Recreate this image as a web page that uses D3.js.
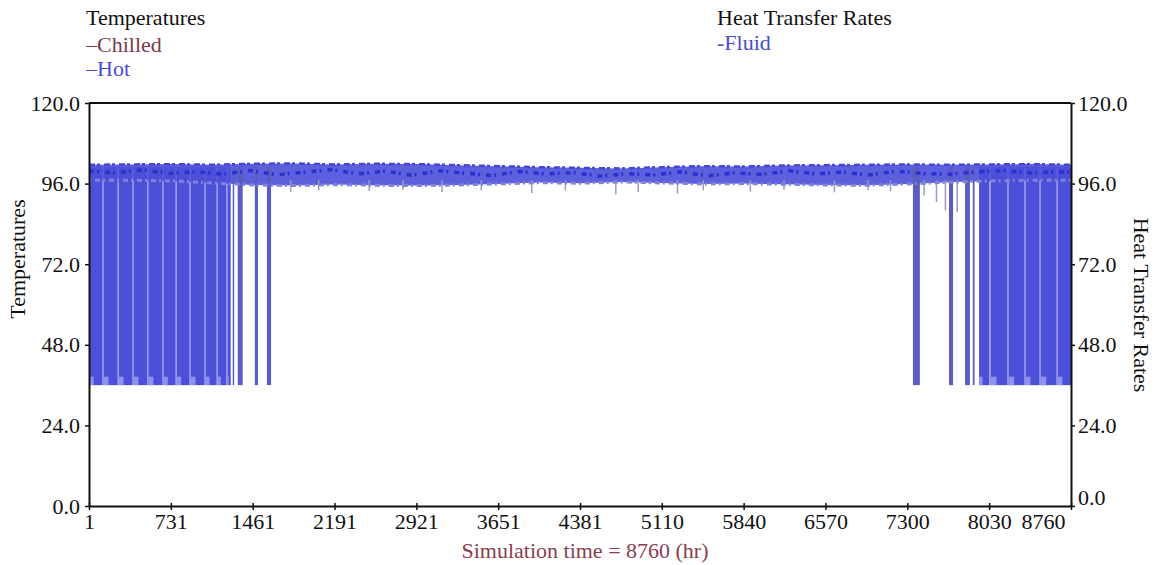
<!DOCTYPE html>
<html>
<head>
<meta charset="utf-8">
<script src="https://cdn.jsdelivr.net/npm/d3@7"></script>
<style>
body { margin: 0; background: #fff; }
text { font-family: "Liberation Serif", "Times New Roman", serif; }
</style>
</head>
<body>
<script>
// time axis ticks (hr)
let timeTicks = [1, 731, 1461, 2191, 2921, 3651, 4381, 5110, 5840, 6570, 7300, 8030, 8760];
// temperature ticks
let tempTicks = [0, 24, 48, 72, 96, 120];

// hot fluid: hours where it swings between low and high
let hotLow = 36;
let hotHigh = 101;
let hotBands = [
  [1, 120], [132, 255], [267, 388], [400, 520], [532, 655], [667, 772], [784, 896],
  [908, 1030], [1042, 1138], [1150, 1225], [1238, 1264],
  [1283, 1296], [1328, 1372], [1480, 1508], [1588, 1625],
  [7350, 7412], [7672, 7708], [7815, 7858], [7884, 7900],
  [7940, 8030], [8044, 8192], [8204, 8344], [8356, 8478], [8490, 8630], [8642, 8760]
];
// dense winter periods
let denseBlocks = [[1, 1264], [7940, 8760]];

// hot fluid envelope (summer band)
let envHours = [1, 365, 730, 1095, 1460, 1825, 2190, 2555, 2920, 3285, 3650, 4015, 4380,
  4745, 5110, 5475, 5840, 6205, 6570, 6935, 7300, 7665, 8030, 8395, 8760];
let hotUpper = [101.6, 101.7, 101.8, 101.6, 101.9, 102.0, 101.7, 101.9, 101.8, 101.5, 101.2, 100.9, 100.7,
  100.5, 100.9, 101.2, 101.1, 101.4, 101.5, 101.6, 101.7, 101.6, 101.7, 101.8, 101.6];
let hotLower = [97.0, 97.0, 96.8, 96.2, 95.6, 95.4, 95.7, 95.5, 95.4, 95.6, 95.9, 96.3, 96.1,
  96.5, 96.2, 95.9, 96.0, 95.8, 95.6, 95.5, 95.9, 96.4, 96.8, 97.0, 97.0];

// hot fluid core trace
let coreHours = [1, 240, 480, 720, 960, 1200, 1440, 1680, 1920, 2160, 2400, 2640, 2880, 3120, 3360, 3600,
  3840, 4080, 4320, 4560, 4800, 5040, 5280, 5520, 5760, 6000, 6240, 6480, 6720, 6960, 7200, 7440,
  7680, 7920, 8160, 8400, 8640, 8760];
let coreVals = [99.8, 99.2, 100.1, 99.0, 99.6, 98.8, 99.9, 98.6, 99.4, 100.2, 98.9, 99.7, 98.5, 99.8, 99.1, 98.4,
  99.6, 98.9, 99.3, 98.2, 99.0, 98.6, 99.5, 98.3, 99.2, 98.7, 99.8, 98.9, 99.4, 98.6, 99.7, 99.0,
  98.8, 99.5, 99.9, 99.1, 99.6, 99.3];

// short drops of the hot fluid
let hotDrops = [
  [1250, 88.5], [1335, 91], [1800, 93.5], [2050, 94], [2500, 93.8], [2800, 94.2], [3150, 93.5],
  [3500, 94], [3950, 93.2], [4250, 94], [4700, 92.8], [4900, 93.5], [5250, 93], [5480, 94],
  [5900, 93.6], [6200, 94.2], [6650, 93.4], [6950, 94], [7150, 93.7], [7450, 92.5], [7560, 90.5],
  [7640, 88], [7745, 87.5]
];

let width = 1159;
let height = 565;
let margin = { top: 103, right: 88, bottom: 59, left: 89 };

let svg = d3.select("body").append("svg").attr("width", width).attr("height", height);

// scales
let xScale = d3.scaleLinear()
  .domain([1, 8760])
  .range([margin.left, width - margin.right]);

let yScale = d3.scaleLinear()
  .domain([0, 120])
  .range([height - margin.bottom, margin.top]);

function inDense(b) {
  return denseBlocks.some(function(d) { return b[0] >= d[0] && b[1] <= d[1]; });
}

// pale backing of the dense blocks
svg.append("g").selectAll("rect")
  .data(denseBlocks)
  .enter()
  .append("rect")
  .attr("x", function(d) { return xScale(d[0]); })
  .attr("width", function(d) { return xScale(d[1]) - xScale(d[0]); })
  .attr("y", yScale(hotHigh))
  .attr("height", yScale(hotLow) - yScale(hotHigh))
  .style("fill", "#a9acf0");

// summer band
let area = d3.area()
  .x(function(d, i) { return xScale(envHours[i]); })
  .y0(function(d, i) { return yScale(hotLower[i]); })
  .y1(function(d, i) { return yScale(hotUpper[i]); });

svg.append("path")
  .datum(envHours)
  .attr("d", area)
  .style("fill", "#5c60dd");

// drops
svg.append("g").selectAll("line")
  .data(hotDrops)
  .enter()
  .append("line")
  .attr("x1", function(d) { return xScale(d[0]); })
  .attr("x2", function(d) { return xScale(d[0]); })
  .attr("y1", yScale(97))
  .attr("y2", function(d) { return yScale(d[1]); })
  .style("stroke", "#9a9cc4")
  .style("stroke-width", 1.5);

// winter bands
svg.append("g").selectAll("rect")
  .data(hotBands)
  .enter()
  .append("rect")
  .attr("x", function(d) { return xScale(d[0]); })
  .attr("width", function(d) { return xScale(d[1]) - xScale(d[0]); })
  .attr("y", yScale(hotHigh))
  .attr("height", yScale(hotLow) - yScale(hotHigh))
  .style("fill", function(d) { return inDense(d) ? "#4c50d8" : "#5a5cc2"; });

// light steps at the bottom of each band
svg.append("g").selectAll("rect")
  .data(hotBands.filter(inDense))
  .enter()
  .append("rect")
  .attr("x", function(d) { return xScale(d[0]); })
  .attr("width", function(d) { return (xScale(d[1]) - xScale(d[0])) * 0.35; })
  .attr("y", yScale(38.5))
  .attr("height", yScale(hotLow) - yScale(38.5))
  .style("fill", "#8e92ea");

// ragged edges of the summer band
let edge = function(vals) {
  return d3.line()
    .x(function(d, i) { return xScale(envHours[i]); })
    .y(function(d) { return yScale(d); })(vals);
};

svg.append("path")
  .attr("d", edge(hotLower))
  .style("fill", "none")
  .style("stroke", "#7e82d8")
  .style("stroke-width", 3)
  .style("stroke-dasharray", "2,4,5,3");

svg.append("path")
  .attr("d", edge(hotUpper))
  .style("fill", "none")
  .style("stroke", "#4347d4")
  .style("stroke-width", 2.5)
  .style("stroke-dasharray", "6,2,3,4");

// core trace
let line = d3.line()
  .x(function(d, i) { return xScale(coreHours[i]); })
  .y(function(d) { return yScale(d); });

svg.append("path")
  .datum(coreVals)
  .attr("d", line)
  .style("fill", "none")
  .style("stroke", "#2c30cf")
  .style("stroke-width", 3.5)
  .style("stroke-dasharray", "5,3,2,6");

// axes
let fmt = d3.format(".1f");

let xAxis = svg.append("g")
  .attr("transform", "translate(0," + yScale(0) + ")")
  .call(d3.axisBottom(xScale).tickValues(timeTicks).tickFormat(d3.format("d")).tickSize(4).tickSizeOuter(0).tickPadding(3));

xAxis.selectAll(".tick line").attr("y1", -3);
xAxis.selectAll(".tick text")
  .filter(function(d) { return d === 8760; })
  .attr("text-anchor", "end")
  .attr("dx", "-6");

let leftAxis = svg.append("g")
  .attr("transform", "translate(" + xScale(1) + ",0)")
  .call(d3.axisLeft(yScale).tickValues(tempTicks).tickFormat(fmt).tickSize(4).tickSizeOuter(0).tickPadding(5));

let rightAxis = svg.append("g")
  .attr("transform", "translate(" + xScale(8760) + ",0)")
  .call(d3.axisRight(yScale).tickValues(tempTicks).tickFormat(fmt).tickSize(4).tickSizeOuter(0).tickPadding(3));

rightAxis.selectAll(".tick text")
  .filter(function(d) { return d === 0; })
  .attr("dy", "-0.05em");

[xAxis, leftAxis, rightAxis].forEach(function(a) {
  a.select(".domain").style("stroke", "#111").style("stroke-width", 2);
  a.selectAll(".tick line").style("stroke", "#111").style("stroke-width", 1.5);
  a.selectAll(".tick text")
    .style("font-family", "'Liberation Serif', serif")
    .style("font-size", "22px")
    .style("fill", "#111");
});

// top frame
svg.append("line")
  .attr("x1", xScale(1))
  .attr("x2", xScale(8760))
  .attr("y1", yScale(120))
  .attr("y2", yScale(120))
  .style("stroke", "#111")
  .style("stroke-width", 2);

// axis titles
svg.append("text")
  .attr("transform", "translate(25," + 259 + ") rotate(-90)")
  .attr("text-anchor", "middle")
  .style("font-size", "22px")
  .style("fill", "#111")
  .text("Temperatures");

svg.append("text")
  .attr("transform", "translate(1134," + 305 + ") rotate(90)")
  .attr("text-anchor", "middle")
  .style("font-size", "22px")
  .style("fill", "#111")
  .text("Heat Transfer Rates");

svg.append("text")
  .attr("x", 585)
  .attr("y", 558)
  .attr("text-anchor", "middle")
  .style("font-size", "22px")
  .style("fill", "#8a3e4e")
  .text("Simulation time = 8760 (hr)");

// legends
let legend = [
  { x: 86, y: 25, text: "Temperatures", color: "#111" },
  { x: 86, y: 52, text: "\u2013Chilled", color: "#7a3c4c" },
  { x: 86, y: 76, text: "\u2013Hot", color: "#4a4cd0" },
  { x: 717, y: 25, text: "Heat Transfer Rates", color: "#111" },
  { x: 717, y: 50, text: "-Fluid", color: "#4a4cd0" }
];

svg.append("g").selectAll("text")
  .data(legend)
  .enter()
  .append("text")
  .attr("x", function(d) { return d.x; })
  .attr("y", function(d) { return d.y; })
  .style("font-size", "22px")
  .style("fill", function(d) { return d.color; })
  .text(function(d) { return d.text; });
</script>
</body>
</html>
